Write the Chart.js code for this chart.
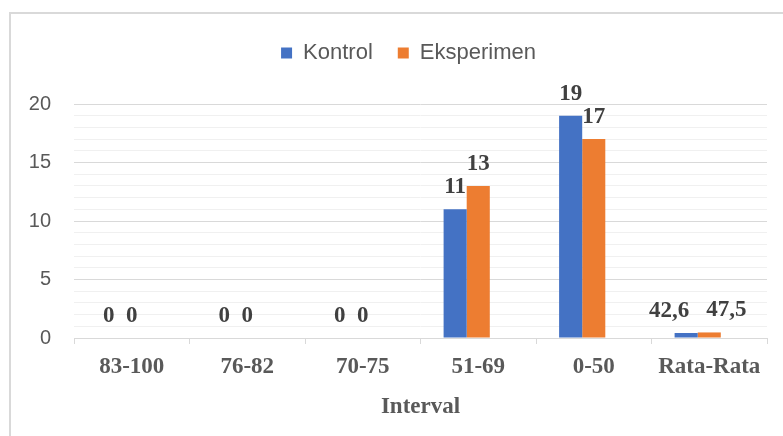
<!DOCTYPE html>
<html>
<head>
<meta charset="utf-8">
<script src="https://cdn.jsdelivr.net/npm/chart.js@4.4.0/dist/chart.umd.min.js"></script>
<style>
html, body { margin: 0; padding: 0; background: #fff; }
#wrap { position: relative; width: 783px; height: 436px; overflow: hidden; }
#frame { position: absolute; left: 9px; top: 12px; width: 900px; height: 600px; border: 2px solid #d9d9d9; }
canvas { position: absolute; left: 0; top: 0; }
</style>
</head>
<body>
<div id="wrap">
  <div id="frame"></div>
  <canvas id="chart" width="783" height="436"></canvas>
</div>
<script>
const categories = ['83-100', '76-82', '70-75', '51-69', '0-50', 'Rata-Rata'];
const kontrol = [0, 0, 0, 11, 19, 0.426];
const eksperimen = [0, 0, 0, 13, 17, 0.475];
const kontrolLabels = ['0', '0', '0', '11', '19', '42,6'];
const eksperimenLabels = ['0', '0', '0', '13', '17', '47,5'];
const emptySeries = [null, null, null, null, null, null];

// value labels above the bars (Excel style)
const barLabels = {
    id: 'barLabels',
    afterDatasetsDraw(chart) {
        const ctx = chart.ctx;
        const texts = [kontrolLabels, eksperimenLabels];
        const nudge = [-17, 17]; // last group: labels pushed apart
        ctx.save();
        ctx.font = 'bold 23px "Liberation Serif"';
        ctx.fillStyle = '#404040';
        ctx.textAlign = 'center';
        ctx.textBaseline = 'alphabetic';
        texts.forEach((arr, di) => {
            chart.getDatasetMeta(di).data.forEach((bar, i) => {
                const dx = i === categories.length - 1 ? nudge[di] : 0;
                ctx.fillText(arr[i], bar.x + dx, bar.y - 16);
            });
        });
        ctx.restore();
    }
};

// more room under the legend, and legend a bit right of centre
const legendSpace = {
    id: 'legendSpace',
    beforeInit(chart) {
        const fit = chart.legend.fit;
        chart.legend.fit = function () {
            fit.bind(this)();
            this.height += 30;
        };
    },
    afterLayout(chart) {
        chart.legend.left += 25;
        chart.legend.right += 25;
    }
};

const ctx = document.getElementById('chart').getContext('2d');
new Chart(ctx, {
    type: 'bar',
    data: {
        labels: categories,
        datasets: [
            { label: 'Kontrol', data: kontrol, backgroundColor: '#4472C4' },
            { label: 'Eksperimen', data: eksperimen, backgroundColor: '#ED7D31' },
            { label: '', data: emptySeries, backgroundColor: '#A5A5A5' }
        ]
    },
    options: {
        responsive: false,
        animation: false,
        barPercentage: 1,
        categoryPercentage: 0.6,
        layout: { padding: { top: 17, right: 16, left: 0, bottom: 11 } },
        plugins: {
            legend: {
                position: 'top',
                labels: {
                    boxWidth: 11,
                    boxHeight: 11,
                    padding: 25,
                    color: '#595959',
                    font: { family: '"Liberation Sans"', size: 22 },
                    filter: item => item.datasetIndex < 2
                }
            },
            tooltip: { enabled: false }
        },
        scales: {
            x: {
                grid: {
                    offset: true,
                    drawOnChartArea: false,
                    drawTicks: true,
                    tickLength: 6,
                    color: '#d9d9d9'
                },
                border: { color: '#d9d9d9' },
                ticks: {
                    color: '#595959',
                    padding: 9,
                    font: { family: '"Liberation Serif"', size: 23, weight: 'bold' }
                },
                title: {
                    display: true,
                    text: 'Interval',
                    color: '#595959',
                    font: { family: '"Liberation Serif"', size: 23, weight: 'bold' }
                },
                afterFit: s => { s.height = 87; }
            },
            y: {
                min: 0,
                max: 20,
                grid: {
                    drawTicks: false,
                    color: c => (c.tick.value % 5 === 0 ? '#d9d9d9' : '#f0f0f0')
                },
                border: { display: false },
                ticks: {
                    stepSize: 1,
                    autoSkip: false,
                    padding: 23,
                    color: '#595959',
                    font: { family: '"Liberation Sans"', size: 20 },
                    callback: v => (v % 5 === 0 ? v : '')
                },
                afterFit: s => { s.width = 74; }
            }
        }
    },
    plugins: [barLabels, legendSpace]
});
</script>
</body>
</html>
